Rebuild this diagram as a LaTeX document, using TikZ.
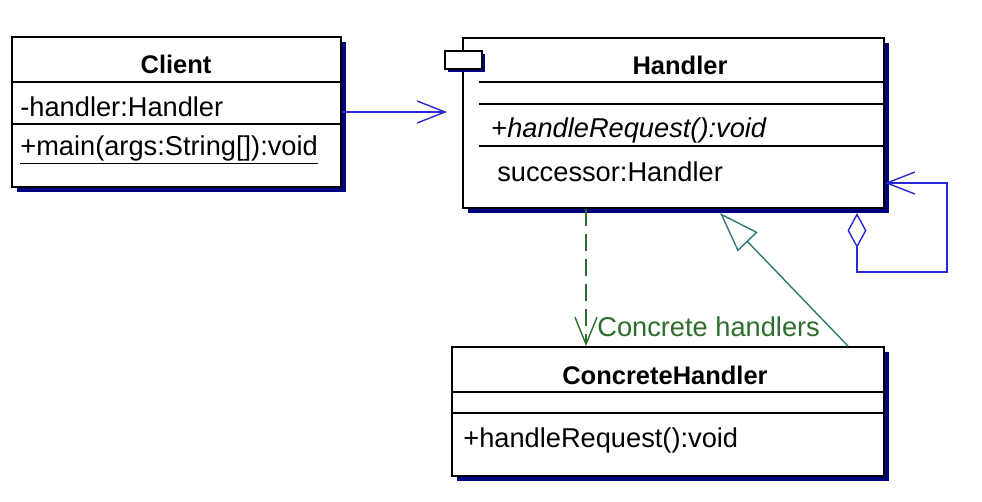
\documentclass[tikz,border=0pt]{standalone}
\usepackage{fontspec}
\setmainfont{Liberation Sans}
\usetikzlibrary{arrows.meta,shadows}
\definecolor{umlnavy}{RGB}{0,0,128}
\definecolor{umlblue}{RGB}{40,40,215}
\definecolor{umlgreen}{RGB}{45,110,45}
\definecolor{umlteal}{RGB}{50,120,120}

\begin{document}
\begin{tikzpicture}[x=0.2mm, y=-0.2mm]
                % Define styles for different elements
                \tikzstyle{classbox} = [rectangle, draw, line width=1.1pt, fill=white, inner sep=0pt, drop shadow={shadow xshift=1mm, shadow yshift=-1mm, fill=umlnavy, opacity=1}]
                \tikzstyle{iconbox} = [rectangle, draw, line width=0.9pt, fill=white, inner sep=0pt, drop shadow={shadow xshift=0.5mm, shadow yshift=-0.5mm, fill=umlnavy, opacity=1}]
                \tikzstyle{classname} = [font=\fontsize{14.5}{16}\selectfont\bfseries, inner sep=0pt]
                \tikzstyle{member} = [anchor=west, font=\fontsize{15.5}{18}\selectfont, inner sep=0pt]
                \tikzstyle{sep} = [line width=0.8pt]
                \tikzstyle{assoc} = [draw=umlblue, line width=0.8pt]
                \tikzstyle{dep} = [draw=umlgreen, line width=0.8pt, dash pattern=on 3.4mm off 1.6mm]
                \tikzstyle{gen} = [draw=umlteal, line width=0.8pt]

                \useasboundingbox (0,0) rectangle (982,501);

                % Draw the class boxes
                \node[classbox, minimum width=65.8mm, minimum height=30mm] (client) at (176.5,112) {};
                \node[classbox, minimum width=84.2mm, minimum height=34mm] (handler) at (673.5,123) {};
                \node[classbox, minimum width=86.4mm, minimum height=25.8mm] (concrete) at (668,411.5) {};
                \node[iconbox, minimum width=7.4mm, minimum height=3.6mm] (icon) at (463.5,60) {};

                % Compartment lines
                \draw[sep] (client.west |- 0,82) -- (client.east |- 0,82);
                \draw[sep] (client.west |- 0,124) -- (client.east |- 0,124);
                \draw[sep] (479,82) -- (handler.east |- 0,82);
                \draw[sep] (479,104) -- (handler.east |- 0,104);
                \draw[sep] (479,146) -- (handler.east |- 0,146);
                \draw[sep] (concrete.west |- 0,392) -- (concrete.east |- 0,392);
                \draw[sep] (concrete.west |- 0,413) -- (concrete.east |- 0,413);

                % Names and members
                \node[classname] (clientname) at (176,64) {Client};
                \node[member] (clientattr) at (20,107) {-handler:Handler};
                \node[member] (clientop) at (20,150) {\underline{+main(args:String[]):void}};

                \node[classname] (handlername) at (680,65) {Handler};
                \node[member] (abstractop) at (491,130) {+\textit{handleRequest():void}};
                \node[member] (succattr) at (497,172) {successor:Handler};

                \node[classname] (concretename) at (665,375) {ConcreteHandler};
                \node[member] (concreteop) at (463,440) {+handleRequest():void};

                % Connect the nodes
                \coordinate (clientin) at (447,112);
                \draw[assoc, -{Straight Barb[length=5.6mm, width=4.4mm]}] (client.east) -- (clientin);

                \coordinate (dtop) at (857,213);
                \coordinate (loopa) at (857,272);
                \coordinate (loopb) at (947,272);
                \coordinate (loopc) at (947,183);
                \draw[assoc, {Diamond[open, fill=white, length=7mm, width=3.8mm]}-{Straight Barb[length=5.6mm, width=4.4mm]}] (dtop) -- (loopa) -- (loopb) -- (loopc) -- (handler.east |- loopc);

                \draw[dep, -{Straight Barb[length=5.4mm, width=4.4mm]}] (handler.south -| 586,0) -- (concrete.north -| 586,0);
                \node[member, text=umlgreen] (deplabel) at (597,327) {Concrete handlers};

                \coordinate (gentip) at (720,213);
                \draw[gen, -{Triangle[open, fill=white, length=8mm, width=5.5mm]}] (concrete.north -| 848,0) -- (gentip);
            \end{tikzpicture}
\end{document}
